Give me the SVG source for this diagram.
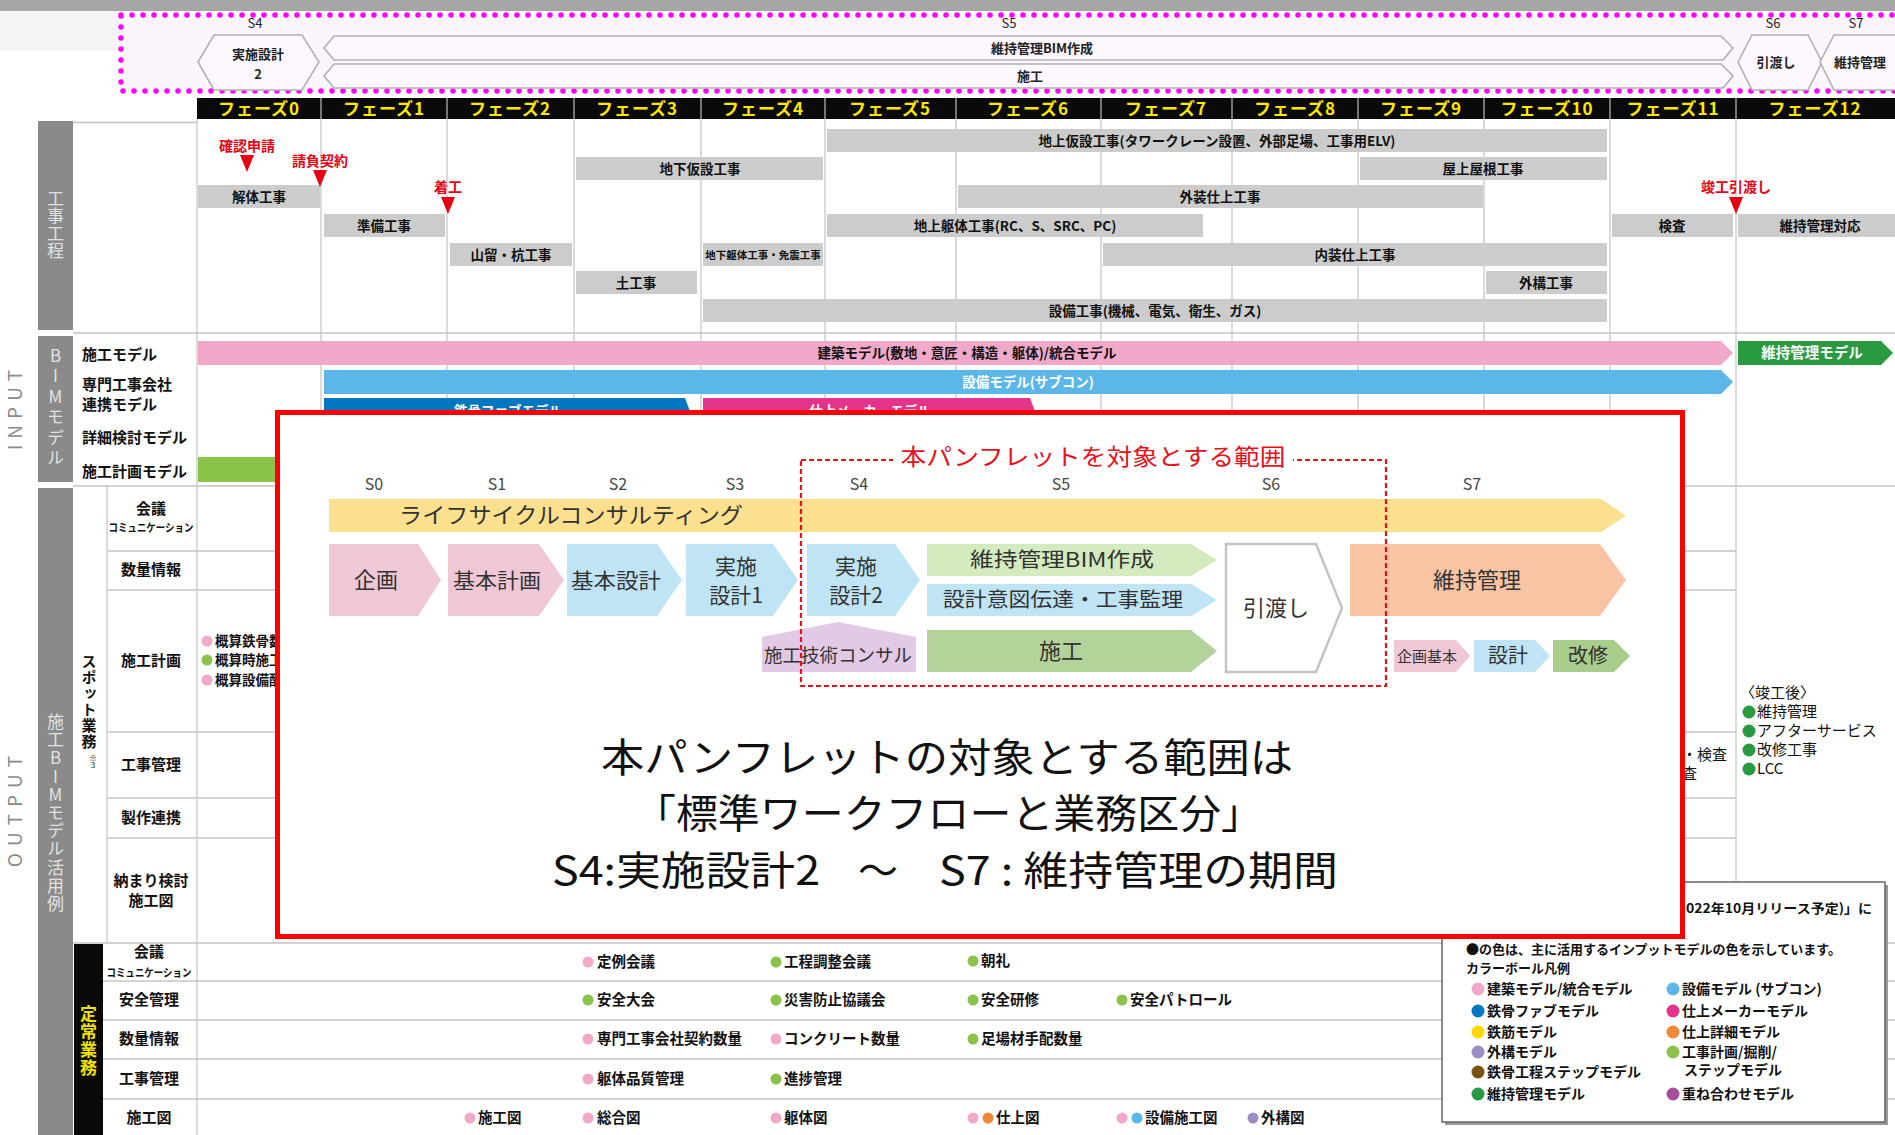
<svg xmlns="http://www.w3.org/2000/svg" width="1895" height="1135" viewBox="0 0 1895 1135">
<style>
text{font-family:'Noto Sans CJK JP','Noto Sans',sans-serif;}
.ph{fill:#ffe800;font-size:17px;font-weight:bold;text-anchor:middle;letter-spacing:1px}
.gb{fill:#cbcccb}
.gt{font-size:13.5px;fill:#111;text-anchor:middle;font-weight:bold}
.rt{font-size:14px;fill:#e60012;text-anchor:middle;font-weight:bold}
.tri{fill:#e60012}
.vl{stroke:#c8c8c8;stroke-width:1.3}
.hl{stroke:#c4c4c4;stroke-width:1.5}
.lb{font-size:15px;fill:#111;font-weight:bold}
.lc{font-size:15px;fill:#111;font-weight:bold;text-anchor:middle}
.lcs{font-size:11px;fill:#111;font-weight:bold;text-anchor:middle}
.bt{font-size:14.5px;fill:#111;font-weight:bold}
.gc{fill:#8a8a8a}
.vt{writing-mode:vertical-rl;text-orientation:upright}
.gct{font-size:17px;fill:#e2e2e2}
.bw{font-size:13.5px;fill:#fff;text-anchor:middle;font-weight:bold}
.ban{fill:#fdf8fd;stroke:#b0b0b0;stroke-width:1.6}
.top{font-size:13px;fill:#222;text-anchor:middle;font-weight:bold}
.stg{font-size:13px;fill:#222;text-anchor:middle}
.sl{font-size:16px;fill:#444;text-anchor:middle}
.cv{fill:#333;text-anchor:middle}
.lg{font-size:14px;fill:#111;font-weight:bold}
.af{font-size:15px;fill:#111}
.pk{fill:#f2a9c9}.gn{fill:#8bc34a}.dg{fill:#2a9a40}.bl{fill:#5db6e8}.db{fill:#0077c0}.mg{fill:#e3338b}.yl{fill:#ffd800}.pp{fill:#9b8ec4}.br{fill:#7b5210}.or{fill:#f0883a}.vi{fill:#a64d9e}
</style>

<!-- background -->
<rect x="0" y="0" width="1895" height="1135" fill="#ffffff"/>
<rect x="0" y="0" width="1895" height="11" fill="#a6a6a6"/>
<rect x="0" y="11" width="120" height="40" fill="#f4f4f4"/>

<!-- top stage band -->
<g id="stage-band">
  <rect x="121" y="15" width="1800" height="76" fill="#fcf5fc" stroke="#ff00ff" stroke-width="5.5" stroke-dasharray="0 11" stroke-linecap="round"/>
  <text class="stg" x="255" y="28">S4</text>
  <text class="stg" x="1009" y="28">S5</text>
  <text class="stg" x="1773" y="28">S6</text>
  <text class="stg" x="1856" y="28">S7</text>
  <polygon class="ban" points="198,62 214,35 302,35 319,62 302,90 214,90"/>
  <text class="top" x="258" y="59">実施設計</text>
  <text class="top" x="258" y="79">2</text>
  <polygon class="ban" points="324,48 334,36 1721,36 1733,48 1723,60 334,60"/>
  <text class="top" x="1042" y="53">維持管理BIM作成</text>
  <polygon class="ban" points="324,76 334,64 1721,64 1733,76 1723,88 334,88"/>
  <text class="top" x="1030" y="81">施工</text>
  <polygon class="ban" points="1738,62 1752,35 1808,35 1822,62 1808,90 1752,90"/>
  <text class="top" x="1776" y="67">引渡し</text>
  <polygon class="ban" points="1820,62 1834,35 1910,35 1910,90 1834,90"/>
  <text class="top" x="1860" y="67">維持管理</text>
</g>

<!-- phase header -->
<g id="phase-header">
  <rect x="197" y="98" width="1698" height="21" fill="#0a0a0a"/>
  <g stroke="#9a9a9a" stroke-width="1.5">
    <line x1="321" y1="98" x2="321" y2="119"/><line x1="447" y1="98" x2="447" y2="119"/><line x1="574" y1="98" x2="574" y2="119"/><line x1="701" y1="98" x2="701" y2="119"/><line x1="825" y1="98" x2="825" y2="119"/><line x1="956" y1="98" x2="956" y2="119"/><line x1="1101" y1="98" x2="1101" y2="119"/><line x1="1232" y1="98" x2="1232" y2="119"/><line x1="1358" y1="98" x2="1358" y2="119"/><line x1="1484" y1="98" x2="1484" y2="119"/><line x1="1610" y1="98" x2="1610" y2="119"/><line x1="1736" y1="98" x2="1736" y2="119"/>
  </g>
  <text class="ph" x="259" y="115">フェーズ0</text>
  <text class="ph" x="384" y="115">フェーズ1</text>
  <text class="ph" x="510" y="115">フェーズ2</text>
  <text class="ph" x="637" y="115">フェーズ3</text>
  <text class="ph" x="763" y="115">フェーズ4</text>
  <text class="ph" x="890" y="115">フェーズ5</text>
  <text class="ph" x="1028" y="115">フェーズ6</text>
  <text class="ph" x="1166" y="115">フェーズ7</text>
  <text class="ph" x="1295" y="115">フェーズ8</text>
  <text class="ph" x="1421" y="115">フェーズ9</text>
  <text class="ph" x="1547" y="115">フェーズ10</text>
  <text class="ph" x="1673" y="115">フェーズ11</text>
  <text class="ph" x="1815" y="115">フェーズ12</text>
</g>

<!-- grid -->
<g id="grid">
  <line class="vl" x1="197" y1="119" x2="197" y2="1135"/>
  <line class="vl" x1="321" y1="119" x2="321" y2="486"/><line class="vl" x1="447" y1="119" x2="447" y2="486"/><line class="vl" x1="574" y1="119" x2="574" y2="486"/><line class="vl" x1="701" y1="119" x2="701" y2="486"/><line class="vl" x1="825" y1="119" x2="825" y2="486"/><line class="vl" x1="956" y1="119" x2="956" y2="486"/><line class="vl" x1="1101" y1="119" x2="1101" y2="486"/><line class="vl" x1="1232" y1="119" x2="1232" y2="486"/><line class="vl" x1="1358" y1="119" x2="1358" y2="486"/><line class="vl" x1="1484" y1="119" x2="1484" y2="486"/><line class="vl" x1="1610" y1="119" x2="1610" y2="486"/>
  <line class="vl" x1="1736" y1="119" x2="1736" y2="882"/>
  <line class="vl" x1="107" y1="486" x2="107" y2="943"/>
  <line class="hl" x1="73" y1="122.5" x2="197" y2="122.5"/>
  <line class="hl" x1="73" y1="333" x2="1895" y2="333"/>
  <line class="hl" x1="73" y1="486" x2="1895" y2="486"/>
  <line class="hl" x1="107" y1="551" x2="1736" y2="551"/>
  <line class="hl" x1="107" y1="590" x2="1736" y2="590"/>
  <line class="hl" x1="107" y1="732" x2="1736" y2="732"/>
  <line class="hl" x1="107" y1="798" x2="1736" y2="798"/>
  <line class="hl" x1="107" y1="838" x2="1736" y2="838"/>
  <line class="hl" x1="73" y1="943" x2="1895" y2="943"/>
  <line class="hl" x1="103" y1="981" x2="1895" y2="981"/>
  <line class="hl" x1="103" y1="1020" x2="1895" y2="1020"/>
  <line class="hl" x1="103" y1="1059" x2="1895" y2="1059"/>
  <line class="hl" x1="103" y1="1099" x2="1895" y2="1099"/>
</g>

<!-- left side labels -->
<g id="side-labels">
  <text x="22" y="407" transform="rotate(-90 22 407)" font-size="19" fill="#8a8a8a" text-anchor="middle" letter-spacing="6">INPUT</text>
  <text x="22" y="808" transform="rotate(-90 22 808)" font-size="19" fill="#8a8a8a" text-anchor="middle" letter-spacing="7">OUTPUT</text>
  <rect class="gc" x="38" y="121" width="35" height="209"/>
  <text class="gct vt" x="55.5" y="190" style="letter-spacing:0.5px">工事工程</text>
  <rect class="gc" x="38" y="336" width="35" height="146"/>
  <text class="gct vt" x="55.5" y="347" style="letter-spacing:3.4px">BIMモデル</text>
  <rect class="gc" x="38" y="488" width="35" height="647"/>
  <text class="gct vt" x="55.5" y="713" style="letter-spacing:1.2px">施工BIMモデル活用例</text>
  <text class="vt" x="89" y="654" style="font-size:15px;letter-spacing:1px" fill="#111" font-weight="bold">スポット業務</text>
  <text class="vt" x="93" y="754" style="font-size:7.5px" fill="#111">※3</text>
  <rect x="74" y="944" width="29" height="191" fill="#0a0a0a"/>
  <text class="vt" x="88.5" y="1005" style="font-size:17px;letter-spacing:1px" fill="#f0e000" font-weight="bold">定常業務</text>
</g>

<!-- construction schedule -->
<g id="schedule">
  <rect class="gb" x="827" y="129" width="780" height="23"/><text class="gt" x="1217" y="146">地上仮設工事(タワークレーン設置、外部足場、工事用ELV)</text>
  <rect class="gb" x="576" y="157" width="247" height="23"/><text class="gt" x="700" y="174">地下仮設工事</text>
  <rect class="gb" x="1360" y="157" width="247" height="23"/><text class="gt" x="1483" y="174">屋上屋根工事</text>
  <rect class="gb" x="198" y="185" width="122" height="23"/><text class="gt" x="259" y="202">解体工事</text>
  <rect class="gb" x="958" y="185" width="525" height="23"/><text class="gt" x="1220" y="202">外装仕上工事</text>
  <rect class="gb" x="324" y="214" width="121" height="23"/><text class="gt" x="384" y="231">準備工事</text>
  <rect class="gb" x="827" y="214" width="376" height="23"/><text class="gt" x="1015" y="231">地上躯体工事(RC、S、SRC、PC)</text>
  <rect class="gb" x="1612" y="214" width="121" height="23"/><text class="gt" x="1672" y="231">検査</text>
  <rect class="gb" x="1738" y="214" width="157" height="23"/><text class="gt" x="1820" y="231">維持管理対応</text>
  <rect class="gb" x="450" y="243" width="122" height="23"/><text class="gt" x="511" y="260">山留・杭工事</text>
  <rect class="gb" x="703" y="243" width="120" height="23"/><text class="gt" x="763" y="259" style="font-size:10.5px">地下躯体工事・免震工事</text>
  <rect class="gb" x="1103" y="243" width="504" height="23"/><text class="gt" x="1355" y="260">内装仕上工事</text>
  <rect class="gb" x="576" y="271" width="121" height="23"/><text class="gt" x="636" y="288">土工事</text>
  <rect class="gb" x="1486" y="271" width="121" height="23"/><text class="gt" x="1546" y="288">外構工事</text>
  <rect class="gb" x="703" y="299" width="904" height="23"/><text class="gt" x="1155" y="316">設備工事(機械、電気、衛生、ガス)</text>
  <text class="rt" x="247" y="151">確認申請</text><polygon class="tri" points="240,155 254,155 247,172"/>
  <text class="rt" x="320" y="166">請負契約</text><polygon class="tri" points="313,170 327,170 320,187"/>
  <text class="rt" x="448" y="192">着工</text><polygon class="tri" points="441,197 455,197 448,214"/>
  <text class="rt" x="1736" y="192">竣工引渡し</text><polygon class="tri" points="1729,197 1743,197 1736,214"/>
</g>

<!-- BIM models -->
<g id="bim-models">
  <text class="lb" x="82" y="360">施工モデル</text>
  <text class="lb" x="82" y="390">専門工事会社</text>
  <text class="lb" x="82" y="410">連携モデル</text>
  <text class="lb" x="82" y="443">詳細検討モデル</text>
  <text class="lb" x="82" y="477">施工計画モデル</text>
  <polygon class="pk" points="198,341 1721,341 1733,353 1721,365 198,365"/>
  <text class="gt" x="967" y="358">建築モデル(敷地・意匠・構造・躯体)/統合モデル</text>
  <polygon class="bl" points="324,370 1721,370 1733,382 1721,394 324,394"/>
  <text class="bw" x="1028" y="387">設備モデル(サブコン)</text>
  <polygon class="db" points="324,398 685,398 694,422 324,422"/>
  <text class="bw" x="508" y="416">鉄骨ファブモデル</text>
  <polygon class="mg" points="703,398 1030,398 1039,422 703,422"/>
  <text class="bw" x="870" y="416">仕上メーカーモデル</text>
  <polygon class="dg" points="1738,341 1881,341 1893,353 1881,365 1738,365"/>
  <text class="bw" x="1812" y="358" style="font-size:14.5px">維持管理モデル</text>
  <rect class="gn" x="198" y="457" width="300" height="25"/>
</g>

<!-- output spot rows -->
<g id="spot-rows">
  <text class="lc" x="151" y="514">会議</text>
  <text class="lcs" x="151" y="532" textLength="85" lengthAdjust="spacingAndGlyphs">コミュニケーション</text>
  <text class="lc" x="151" y="575">数量情報</text>
  <text class="lc" x="151" y="666">施工計画</text>
  <text class="lc" x="151" y="770">工事管理</text>
  <text class="lc" x="151" y="823">製作連携</text>
  <text class="lc" x="151" y="886">納まり検討</text>
  <text class="lc" x="151" y="906">施工図</text>
  <circle class="pk" cx="207" cy="641" r="5.5"/><text class="bt" x="215" y="646" style="font-size:13.5px">概算鉄骨数量</text>
  <circle class="gn" cx="207" cy="660" r="5.5"/><text class="bt" x="215" y="665" style="font-size:13.5px">概算時施工計画</text>
  <circle class="pk" cx="207" cy="680" r="5.5"/><text class="bt" x="215" y="685" style="font-size:13.5px">概算設備配置</text>
  <text x="1727" y="760" font-size="15" fill="#111" text-anchor="end">完了検査・検査</text>
  <text x="1697" y="779" font-size="15" fill="#111" text-anchor="end">竣工検査</text>
  <text class="af" x="1740" y="698">〈竣工後〉</text>
  <circle class="dg" cx="1749" cy="712" r="6.5"/><text class="af" x="1757" y="717">維持管理</text>
  <circle class="dg" cx="1749" cy="731" r="6.5"/><text class="af" x="1757" y="736">アフターサービス</text>
  <circle class="dg" cx="1749" cy="750" r="6.5"/><text class="af" x="1757" y="755">改修工事</text>
  <circle class="dg" cx="1749" cy="769" r="6.5"/><text class="af" x="1757" y="774">LCC</text>
</g>

<!-- regular tasks -->
<g id="regular-rows">
  <text class="lc" x="149" y="957">会議</text>
  <text class="lcs" x="149" y="977" textLength="85" lengthAdjust="spacingAndGlyphs">コミュニケーション</text>
  <text class="lc" x="149" y="1005">安全管理</text>
  <text class="lc" x="149" y="1044">数量情報</text>
  <text class="lc" x="149" y="1084">工事管理</text>
  <text class="lc" x="149" y="1123">施工図</text>
  <circle class="pk" cx="588" cy="962" r="5.5"/><text class="bt" x="597" y="967">定例会議</text>
  <circle class="gn" cx="776" cy="962" r="5.5"/><text class="bt" x="784" y="967">工程調整会議</text>
  <circle class="gn" cx="973" cy="961" r="5.5"/><text class="bt" x="981" y="966">朝礼</text>
  <circle class="gn" cx="588" cy="1000" r="5.5"/><text class="bt" x="597" y="1005">安全大会</text>
  <circle class="gn" cx="776" cy="1000" r="5.5"/><text class="bt" x="784" y="1005">災害防止協議会</text>
  <circle class="gn" cx="973" cy="1000" r="5.5"/><text class="bt" x="981" y="1005">安全研修</text>
  <circle class="gn" cx="1122" cy="1000" r="5.5"/><text class="bt" x="1130" y="1005">安全パトロール</text>
  <circle class="pk" cx="588" cy="1039" r="5.5"/><text class="bt" x="597" y="1044">専門工事会社契約数量</text>
  <circle class="pk" cx="776" cy="1039" r="5.5"/><text class="bt" x="784" y="1044">コンクリート数量</text>
  <circle class="gn" cx="973" cy="1039" r="5.5"/><text class="bt" x="981" y="1044">足場材手配数量</text>
  <circle class="pk" cx="588" cy="1079" r="5.5"/><text class="bt" x="597" y="1084">躯体品質管理</text>
  <circle class="gn" cx="776" cy="1079" r="5.5"/><text class="bt" x="784" y="1084">進捗管理</text>
  <circle class="pk" cx="470" cy="1118" r="5.5"/><text class="bt" x="478" y="1123">施工図</text>
  <circle class="pk" cx="588" cy="1118" r="5.5"/><text class="bt" x="597" y="1123">総合図</text>
  <circle class="pk" cx="776" cy="1118" r="5.5"/><text class="bt" x="784" y="1123">躯体図</text>
  <circle class="pk" cx="973" cy="1118" r="5.5"/><circle class="or" cx="988" cy="1118" r="5.5"/><text class="bt" x="996" y="1123">仕上図</text>
  <circle class="pk" cx="1122" cy="1118" r="5.5"/><circle class="bl" cx="1137" cy="1118" r="5.5"/><text class="bt" x="1145" y="1123">設備施工図</text>
  <circle class="pp" cx="1253" cy="1118" r="5.5"/><text class="bt" x="1261" y="1123">外構図</text>
</g>

<!-- legend -->
<g id="legend">
  <rect x="1445" y="885" width="443" height="240" fill="#9a9a9a"/>
  <rect x="1442" y="882" width="443" height="240" fill="#ffffff" stroke="#666" stroke-width="1.5"/>
  <text x="1684" y="913" font-size="13" fill="#111" font-weight="bold" text-anchor="end">※「BIM標準ワークフロー(2</text>
  <text x="1686" y="913" font-size="13" fill="#111" font-weight="bold" textLength="186" lengthAdjust="spacingAndGlyphs">022年10月リリース予定)」に</text>
  <text x="1466" y="954" font-size="13" fill="#111" font-weight="bold">●の色は、主に活用するインプットモデルの色を示しています。</text>
  <text x="1466" y="973" font-size="13" fill="#111" font-weight="bold">カラーボール凡例</text>
  <circle class="pk" cx="1478" cy="989" r="6.5"/><text class="lg" x="1487" y="994">建築モデル/統合モデル</text>
  <circle class="db" cx="1478" cy="1011" r="6.5"/><text class="lg" x="1487" y="1016">鉄骨ファブモデル</text>
  <circle class="yl" cx="1478" cy="1032" r="6.5"/><text class="lg" x="1487" y="1037">鉄筋モデル</text>
  <circle class="pp" cx="1478" cy="1052" r="6.5"/><text class="lg" x="1487" y="1057">外構モデル</text>
  <circle class="br" cx="1478" cy="1072" r="6.5"/><text class="lg" x="1487" y="1077">鉄骨工程ステップモデル</text>
  <circle class="dg" cx="1478" cy="1094" r="6.5"/><text class="lg" x="1487" y="1099">維持管理モデル</text>
  <circle class="bl" cx="1673" cy="989" r="6.5"/><text class="lg" x="1682" y="994">設備モデル (サブコン)</text>
  <circle class="mg" cx="1673" cy="1011" r="6.5"/><text class="lg" x="1682" y="1016">仕上メーカーモデル</text>
  <circle class="or" cx="1673" cy="1032" r="6.5"/><text class="lg" x="1682" y="1037">仕上詳細モデル</text>
  <circle class="gn" cx="1673" cy="1052" r="6.5"/><text class="lg" x="1682" y="1057">工事計画/掘削/</text>
  <text class="lg" x="1684" y="1075">ステップモデル</text>
  <circle class="vi" cx="1673" cy="1094" r="6.5"/><text class="lg" x="1682" y="1099">重ね合わせモデル</text>
</g>

<!-- overlay -->
<g id="overlay">
  <rect x="277.5" y="412.5" width="1405" height="524" fill="#ffffff" stroke="#ff0000" stroke-width="5"/>
  <g id="workflow">
    <text class="sl" x="374" y="490">S0</text>
    <text class="sl" x="497" y="490">S1</text>
    <text class="sl" x="618" y="490">S2</text>
    <text class="sl" x="735" y="490">S3</text>
    <text class="sl" x="859" y="490">S4</text>
    <text class="sl" x="1061" y="490">S5</text>
    <text class="sl" x="1271" y="490">S6</text>
    <text class="sl" x="1472" y="490">S7</text>
    <polygon points="329,499 1601,499 1626,515.5 1601,532 329,532" fill="#fde08e"/>
    <text x="399" y="523" font-size="22" fill="#333" textLength="344" lengthAdjust="spacingAndGlyphs">ライフサイクルコンサルティング</text>
    <polygon points="329,544 418,544 441,580 418,616 329,616" fill="#efc7d7"/>
    <text class="cv" x="376" y="588" style="font-size:22px">企画</text>
    <polygon points="448,544 539,544 564,580 539,616 448,616" fill="#efc7d7"/>
    <text class="cv" x="497" y="588" style="font-size:21px" textLength="88" lengthAdjust="spacingAndGlyphs">基本計画</text>
    <polygon points="567,544 657,544 682,580 657,616 567,616" fill="#bfe4f6"/>
    <text class="cv" x="616" y="588" style="font-size:21px" textLength="90" lengthAdjust="spacingAndGlyphs">基本設計</text>
    <polygon points="686,544 773,544 798,580 773,616 686,616" fill="#bfe4f6"/>
    <text class="cv" x="736" y="574" style="font-size:21px">実施</text><text class="cv" x="736" y="603" style="font-size:21px">設計1</text>
    <polygon points="807,544 895,544 920,580 895,616 807,616" fill="#bfe4f6"/>
    <text class="cv" x="856" y="574" style="font-size:21px">実施</text><text class="cv" x="856" y="603" style="font-size:21px">設計2</text>
    <polygon points="927,544 1191,544 1217,560 1191,576 927,576" fill="#d4eabf"/>
    <text class="cv" x="1062" y="567" style="font-size:20px" textLength="184" lengthAdjust="spacingAndGlyphs">維持管理BIM作成</text>
    <polygon points="927,584 1191,584 1217,600 1191,616 927,616" fill="#bfe4f6"/>
    <text class="cv" x="1063" y="607" style="font-size:20px" textLength="240" lengthAdjust="spacingAndGlyphs">設計意図伝達・工事監理</text>
    <polygon points="762,637 838,622 916,637 916,672 762,672" fill="#e2c9e5"/>
    <text class="cv" x="838" y="662" style="font-size:18.5px" textLength="148" lengthAdjust="spacingAndGlyphs">施工技術コンサル</text>
    <polygon points="927,630 1191,630 1217,651 1191,672 927,672" fill="#b4d39b"/>
    <text class="cv" x="1061" y="659" style="font-size:22px">施工</text>
    <polygon points="1226,544 1316,544 1342,608 1316,672 1226,672" fill="#ffffff" stroke="#c4c4c4" stroke-width="2.5"/>
    <text class="cv" x="1276" y="616" style="font-size:22px">引渡し</text>
    <polygon points="1350,544 1600,544 1626,580 1600,616 1350,616" fill="#f8c4a4"/>
    <text class="cv" x="1477" y="588" style="font-size:22px">維持管理</text>
    <polygon points="1394,640 1456,640 1470,656 1456,672 1394,672" fill="#efc7d7"/>
    <text class="cv" x="1427" y="662" style="font-size:15px">企画基本</text>
    <polygon points="1474,640 1535,640 1550,656 1535,672 1474,672" fill="#bfe4f6"/>
    <text class="cv" x="1508" y="663" style="font-size:20px">設計</text>
    <polygon points="1553,640 1614,640 1630,656 1614,672 1553,672" fill="#a9cd8a"/>
    <text class="cv" x="1588" y="663" style="font-size:20px">改修</text>
    <rect x="801" y="460" width="585" height="226" fill="none" stroke="#e8101c" stroke-width="2.2" stroke-dasharray="5 3"/>
    <rect x="893" y="445" width="400" height="26" fill="#ffffff"/>
    <text x="1093" y="465" font-size="23" fill="#e8101c" text-anchor="middle" textLength="385" lengthAdjust="spacingAndGlyphs">本パンフレットを対象とする範囲</text>
  </g>
  <g id="caption" font-size="40" fill="#111">
    <text x="601" y="772" textLength="692" lengthAdjust="spacingAndGlyphs">本パンフレットの対象とする範囲は</text>
    <text x="634" y="828" textLength="629" lengthAdjust="spacingAndGlyphs">「標準ワークフローと業務区分」</text>
    <text x="552" y="885" textLength="268" lengthAdjust="spacingAndGlyphs">S4:実施設計2</text>
    <text x="858" y="885">～</text>
    <text x="939" y="885" textLength="399" lengthAdjust="spacingAndGlyphs">S7 : 維持管理の期間</text>
  </g>
</g>
</svg>
